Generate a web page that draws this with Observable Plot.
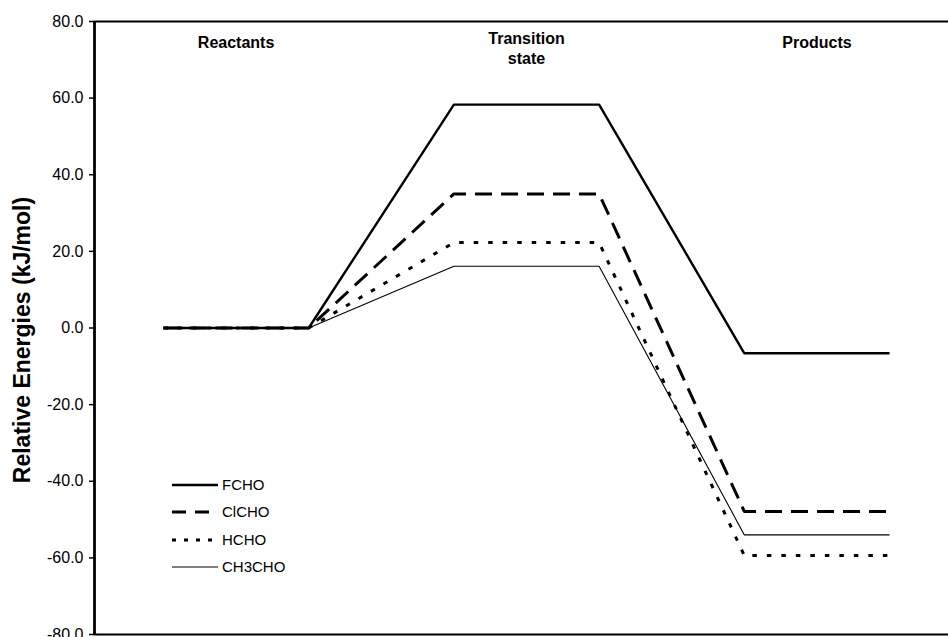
<!DOCTYPE html>
<html>
<head>
<meta charset="utf-8">
<script src="https://cdn.jsdelivr.net/npm/d3@7"></script>
<script src="https://cdn.jsdelivr.net/npm/@observablehq/plot@0.6"></script>
<style>
  html, body { margin: 0; padding: 0; background: #fff; }
  #wrap { position: relative; width: 948px; height: 637px; overflow: hidden; font-family: "Liberation Sans", Arial, sans-serif; }
  #legend { position: absolute; left: 172px; top: 475px; }
  .row { position: absolute; left: 0; height: 20px; width: 150px; }
  .row svg { position: absolute; left: 0; top: 0; }
  .row span { position: absolute; left: 50px; top: 1px; font-size: 15px; color: #000; white-space: nowrap; }
</style>
</head>
<body>
<div id="wrap"></div>
<script>
// ---- data ----
const states = ["Reactants", "Transition state", "Products"];
const stateLabels = ["Reactants", "Transition\nstate", "Products"];
const seriesNames = ["FCHO", "ClCHO", "HCHO", "CH3CHO"];
const FCHO = [0.0, 58.3, -6.6];
const ClCHO = [0.0, 35.0, -47.9];
const HCHO = [0.0, 22.3, -59.4];
const CH3CHO = [0.0, 16.1, -54.0];
const yTicks = [-80, -60, -40, -20, 0, 20, 40, 60, 80];

const seriesValues = {FCHO, ClCHO, HCHO, CH3CHO};
const styles = {
  FCHO:   {strokeWidth: 2.4, dash: null},
  ClCHO:  {strokeWidth: 3, dash: "17,9"},
  HCHO:   {strokeWidth: 3, dash: "4.5,10"},
  CH3CHO: {strokeWidth: 1.1, dash: null}
};

// each state is a horizontal level spanning [2i, 2i+1]
function pts(name) {
  const vals = seriesValues[name];
  const out = [];
  vals.forEach((v, i) => {
    out.push({x: 2 * i, y: v, s: name});
    out.push({x: 2 * i + 1, y: v, s: name});
  });
  return out;
}

const lineMarks = seriesNames.map(n => Plot.line(pts(n), {
  x: "x", y: "y", stroke: "#000",
  strokeWidth: styles[n].strokeWidth,
  strokeDasharray: styles[n].dash,
  strokeLinejoin: "miter", strokeLinecap: "butt"
}));

const labelData = stateLabels.map((t, i) => ({t, x: 2 * i + 0.5, multi: t.includes("\n")}));

const chart = Plot.plot({
  width: 948,
  height: 637,
  marginLeft: 94,
  marginRight: 0,
  marginTop: 21,
  marginBottom: 3,
  x: {domain: [-0.475, 5.406], axis: null},
  y: {domain: [-80, 80], axis: null},
  style: {fontFamily: "'Liberation Sans', Arial, sans-serif", fontSize: "16px", color: "#000", background: "#fff", overflow: "visible"},
  marks: [
    Plot.axisY({ticks: yTicks, tickFormat: d => d.toFixed(1), tickSize: 5, tickPadding: 6, fontSize: 16, label: null, stroke: "#000", strokeWidth: 1.5}),
    ...lineMarks,
    Plot.ruleY([80, -80], {stroke: "#000", strokeWidth: 2.2}),
    Plot.ruleX([-0.475], {stroke: "#000", strokeWidth: 2.8}),
    Plot.text(labelData.filter(d => !d.multi), {x: "x", text: "t", frameAnchor: "top", lineAnchor: "top", dy: 15, fontWeight: "bold", fontSize: 16, fill: "#000"}),
    Plot.text(labelData.filter(d => d.multi), {x: "x", text: "t", frameAnchor: "top", lineAnchor: "top", dy: 8, lineHeight: 1.25, fontWeight: "bold", fontSize: 16, fill: "#000"})
  ]
});
chart.style.position = "absolute";
chart.style.left = "0px";
chart.style.top = "0px";
document.getElementById("wrap").appendChild(chart);

// y axis title
const title = document.createElement("div");
title.textContent = "Relative Energies (kJ/mol)";
Object.assign(title.style, {
  position: "absolute", left: "22px", top: "340px",
  transform: "translate(-50%, -50%) rotate(-90deg)",
  fontWeight: "bold", fontSize: "23px", whiteSpace: "nowrap", color: "#000"
});
document.getElementById("wrap").appendChild(title);

// legend
const legend = document.createElement("div");
legend.id = "legend";
const rowTops = [0, 27, 55, 82];
seriesNames.forEach((n, i) => {
  const row = document.createElement("div");
  row.className = "row";
  row.style.top = rowTops[i] + "px";
  const st = styles[n];
  row.innerHTML = `<svg width="48" height="20"><line x1="0" y1="10" x2="46" y2="10" stroke="#000" stroke-width="${st.strokeWidth}" ${st.dash ? `stroke-dasharray="${n === "ClCHO" ? "14,9" : "4,8"}"` : ""}/></svg><span>${n}</span>`;
  legend.appendChild(row);
});
document.getElementById("wrap").appendChild(legend);
</script>
</body>
</html>
